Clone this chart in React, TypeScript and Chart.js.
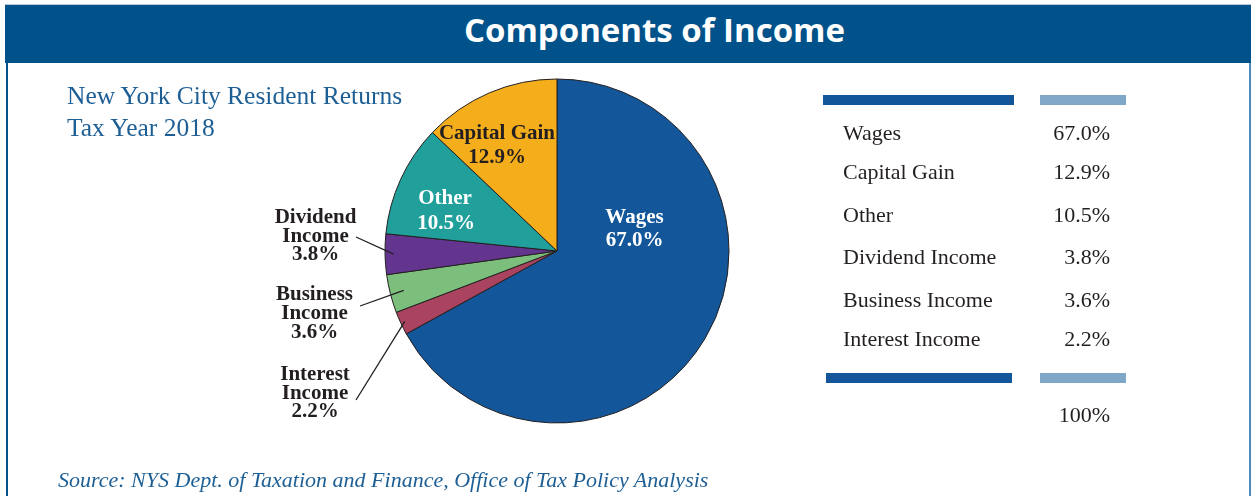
import React, { useEffect, useRef } from "react";
import { Chart, registerables } from "chart.js";

Chart.register(...registerables);

// ---- data ----
const categories = ["Wages", "Interest Income", "Business Income", "Dividend Income", "Other", "Capital Gain"];
const shares = [67.0, 2.2, 3.6, 3.8, 10.5, 12.9];
const sliceColors = ["#135699", "#a9435f", "#7cbe7c", "#64358f", "#209f9b", "#f5ae1b"];
const tableOrder = ["Wages", "Capital Gain", "Other", "Dividend Income", "Business Income", "Interest Income"];
const totalLabel = "100%";

const SERIF = '"Liberation Serif", "Times New Roman", serif';
const SANS = '"Open Sans", "Noto Sans", sans-serif';

const fmt = (v: number) => v.toFixed(1) + "%";
const valueOf = (name: string) => shares[categories.indexOf(name)];

// text placed by baseline (Liberation Serif metrics)
function SerifText(props: {
  x: number; baseline: number; size: number; text: string; align?: "left" | "center" | "right";
  color?: string; bold?: boolean; italic?: boolean; width?: number;
}) {
  const { x, baseline, size, text, align = "left", color = "#231f20", bold, italic } = props;
  const w = props.width ?? 400;
  const left = align === "left" ? x : align === "center" ? x - w / 2 : x - w;
  const top = baseline - size / 2 - 0.3375 * size;
  return (
    <div
      style={{
        position: "absolute", left, top, width: w, textAlign: align, whiteSpace: "nowrap",
        fontFamily: SERIF, fontSize: size, lineHeight: size + "px", color,
        fontWeight: bold ? 700 : 400, fontStyle: italic ? "italic" : "normal",
      }}
    >
      {text}
    </div>
  );
}

const leaderPlugin = {
  id: "leaders",
  afterDatasetsDraw(chart: any) {
    const meta = chart.getDatasetMeta(0);
    const leaders = [
      { name: "Dividend Income", frac: 0.95, to: [356, 237] },
      { name: "Business Income", frac: 0.92, to: [360, 306] },
      { name: "Interest Income", frac: 0.975, to: [356, 400] },
    ];
    const ctx = chart.ctx;
    ctx.save();
    ctx.strokeStyle = "#231f20";
    ctx.lineWidth = 1.3;
    leaders.forEach((l) => {
      const arc = meta.data[categories.indexOf(l.name)];
      const p = arc.getProps(["x", "y", "startAngle", "endAngle", "outerRadius"], true);
      const mid = (p.startAngle + p.endAngle) / 2;
      const r = p.outerRadius * l.frac;
      ctx.beginPath();
      ctx.moveTo(p.x + Math.cos(mid) * r, p.y + Math.sin(mid) * r);
      ctx.lineTo(l.to[0], l.to[1]);
      ctx.stroke();
    });
    ctx.restore();
  },
};

export default function App() {
  const canvasRef = useRef<HTMLCanvasElement | null>(null);

  useEffect(() => {
    document.body.style.margin = "0";
    const chart = new Chart(canvasRef.current as HTMLCanvasElement, {
      type: "pie",
      data: {
        labels: categories,
        datasets: [
          {
            data: shares,
            backgroundColor: sliceColors,
            borderColor: "#231f20",
            borderWidth: 1,
          },
        ],
      },
      options: {
        responsive: false,
        animation: false,
        events: [],
        layout: { padding: { left: 384.5, right: 521.5, top: 78.5, bottom: 72.5 } },
        plugins: { legend: { display: false }, tooltip: { enabled: false } },
      },
      plugins: [leaderPlugin],
    });
    return () => chart.destroy();
  }, []);

  const rowBaselines = [140, 179.3, 222.7, 264, 307.7, 346];

  return (
    <div style={{ position: "absolute", left: 0, top: 0, width: 1251, height: 496, background: "#fff", overflow: "hidden" }}>
      <canvas ref={canvasRef} width={1251} height={496} style={{ position: "absolute", left: 0, top: 0 }} />
      {/* frame */}
      <div style={{ position: "absolute", left: 5, top: 4, width: 1246, height: 1, background: "#b9c9d9" }} />
      <div style={{ position: "absolute", left: 5, top: 5, width: 1246, height: 58, background: "#01528a" }} />
      <div style={{ position: "absolute", left: 6, top: 63, width: 2, height: 433, background: "#01528a" }} />
      <div style={{ position: "absolute", left: 1249, top: 63, width: 2, height: 433, background: "#4f8cbc" }} />
      {/* title */}
      <div
        style={{
          position: "absolute", left: 254.5, width: 800, top: 42.5 - 16.5 - 0.388 * 33, textAlign: "center",
          fontFamily: SANS, fontWeight: 700, fontSize: 33, lineHeight: "33px", color: "#fff",
        }}
      >
        Components of Income
      </div>
      {/* subtitle */}
      <SerifText x={67} baseline={104} size={25.5} text="New York City Resident Returns" color="#1d5f95" />
      <SerifText x={67} baseline={136} size={25.5} text="Tax Year 2018" color="#1d5f95" />

      {/* in-slice labels */}
      <SerifText x={497} baseline={140} size={21} bold align="center" text="Capital Gain" width={200} />
      <SerifText x={497} baseline={164} size={21} bold align="center" text={fmt(valueOf("Capital Gain"))} width={200} />
      <SerifText x={445} baseline={205} size={21} bold align="center" text="Other" color="#fff" width={200} />
      <SerifText x={446} baseline={229.3} size={21} bold align="center" text={fmt(valueOf("Other"))} color="#fff" width={200} />
      <SerifText x={634.5} baseline={223.3} size={21} bold align="center" text="Wages" color="#fff" width={200} />
      <SerifText x={634.5} baseline={246.7} size={21} bold align="center" text={fmt(valueOf("Wages"))} color="#fff" width={200} />

      {/* outside labels */}
      <SerifText x={315.5} baseline={223.3} size={21} bold align="center" text="Dividend" width={200} />
      <SerifText x={315.5} baseline={242.3} size={21} bold align="center" text="Income" width={200} />
      <SerifText x={315.5} baseline={260.7} size={21} bold align="center" text={fmt(valueOf("Dividend Income"))} width={200} />
      <SerifText x={314.5} baseline={301} size={21} bold align="center" text="Business" width={200} />
      <SerifText x={314.5} baseline={319.3} size={21} bold align="center" text="Income" width={200} />
      <SerifText x={314.5} baseline={338.3} size={21} bold align="center" text={fmt(valueOf("Business Income"))} width={200} />
      <SerifText x={315} baseline={381} size={21} bold align="center" text="Interest" width={200} />
      <SerifText x={315} baseline={399.3} size={21} bold align="center" text="Income" width={200} />
      <SerifText x={315} baseline={417.7} size={21} bold align="center" text={fmt(valueOf("Interest Income"))} width={200} />

      {/* table */}
      <div style={{ position: "absolute", left: 823, top: 95, width: 191, height: 10, background: "#13579a" }} />
      <div style={{ position: "absolute", left: 1040, top: 95, width: 86, height: 10, background: "#7fa7c8" }} />
      {tableOrder.map((name, i) => (
        <React.Fragment key={name}>
          <SerifText x={843} baseline={rowBaselines[i]} size={22} text={name} />
          <SerifText x={1110} baseline={rowBaselines[i]} size={22} align="right" text={fmt(valueOf(name))} width={120} />
        </React.Fragment>
      ))}
      <div style={{ position: "absolute", left: 826, top: 373, width: 186, height: 10, background: "#13579a" }} />
      <div style={{ position: "absolute", left: 1040, top: 373, width: 86, height: 10, background: "#7fa7c8" }} />
      <SerifText x={1110} baseline={422} size={22} align="right" text={totalLabel} width={120} />

      {/* source */}
      <SerifText x={58} baseline={487} size={22} italic color="#1d5f95" width={800}
        text="Source: NYS Dept. of Taxation and Finance, Office of Tax Policy Analysis" />
    </div>
  );
}
